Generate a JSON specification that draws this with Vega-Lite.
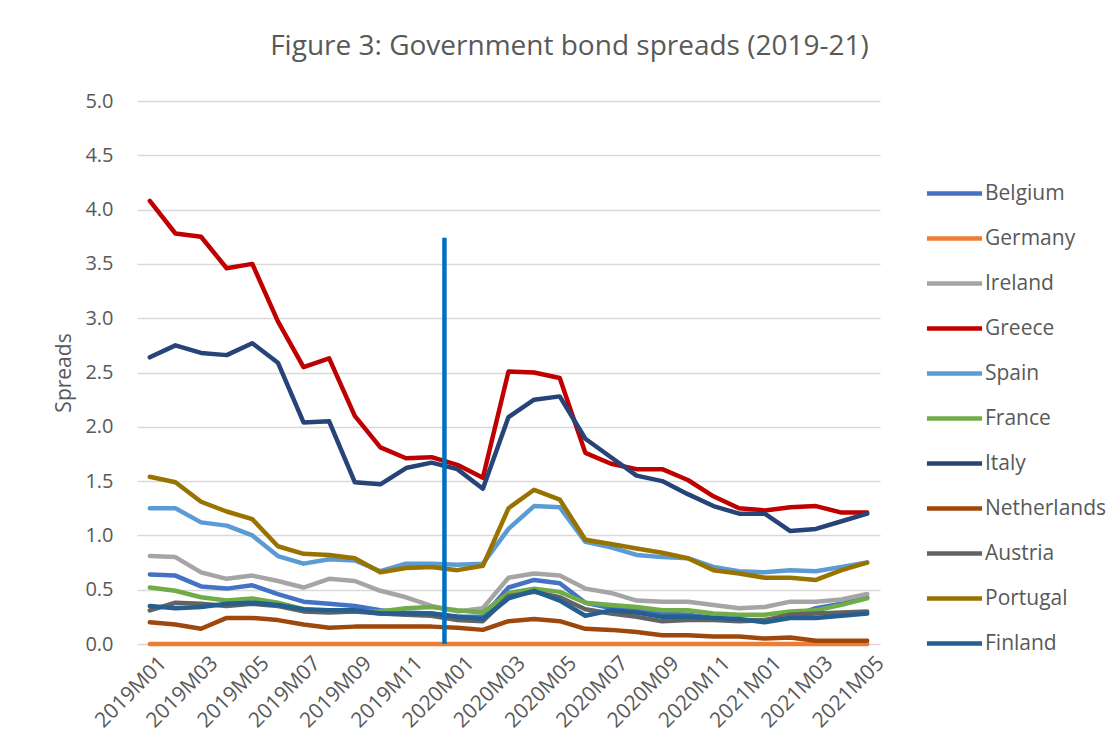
{
  "$schema": "https://vega.github.io/schema/vega-lite/v6.json",
  "autosize": {"type": "none"},
  "width": 743,
  "height": 543,
  "padding": {"left": 137, "top": 101, "right": 240, "bottom": 112},
  "background": "white",
  "title": {
    "text": "Figure 3: Government bond spreads (2019-21)",
    "fontSize": 28,
    "font": "Open Sans",
    "fontWeight": "normal",
    "color": "#595959",
    "anchor": "middle",
    "dx": 61,
    "offset": 30
  },
  "config": {
    "view": {"stroke": null},
    "font": "Open Sans",
    "axis": {"labelColor": "#595959", "titleColor": "#595959", "labelFont": "Open Sans", "titleFont": "Open Sans"},
    "legend": {"labelColor": "#595959", "labelFont": "Open Sans"}
  },
  "layer": [
    {
      "data": {
        "values": [
          {"month":"2019M01","country":"Belgium","spread":0.64},{"month":"2019M02","country":"Belgium","spread":0.63},{"month":"2019M03","country":"Belgium","spread":0.53},{"month":"2019M04","country":"Belgium","spread":0.51},{"month":"2019M05","country":"Belgium","spread":0.54},{"month":"2019M06","country":"Belgium","spread":0.46},{"month":"2019M07","country":"Belgium","spread":0.39},{"month":"2019M08","country":"Belgium","spread":0.37},{"month":"2019M09","country":"Belgium","spread":0.35},{"month":"2019M10","country":"Belgium","spread":0.31},{"month":"2019M11","country":"Belgium","spread":0.29},{"month":"2019M12","country":"Belgium","spread":0.28},{"month":"2020M01","country":"Belgium","spread":0.25},{"month":"2020M02","country":"Belgium","spread":0.25},{"month":"2020M03","country":"Belgium","spread":0.52},{"month":"2020M04","country":"Belgium","spread":0.59},{"month":"2020M05","country":"Belgium","spread":0.56},{"month":"2020M06","country":"Belgium","spread":0.38},{"month":"2020M07","country":"Belgium","spread":0.33},{"month":"2020M08","country":"Belgium","spread":0.31},{"month":"2020M09","country":"Belgium","spread":0.28},{"month":"2020M10","country":"Belgium","spread":0.27},{"month":"2020M11","country":"Belgium","spread":0.24},{"month":"2020M12","country":"Belgium","spread":0.22},{"month":"2021M01","country":"Belgium","spread":0.22},{"month":"2021M02","country":"Belgium","spread":0.25},{"month":"2021M03","country":"Belgium","spread":0.33},{"month":"2021M04","country":"Belgium","spread":0.37},{"month":"2021M05","country":"Belgium","spread":0.43},
          {"month":"2019M01","country":"Germany","spread":0},{"month":"2019M02","country":"Germany","spread":0},{"month":"2019M03","country":"Germany","spread":0},{"month":"2019M04","country":"Germany","spread":0},{"month":"2019M05","country":"Germany","spread":0},{"month":"2019M06","country":"Germany","spread":0},{"month":"2019M07","country":"Germany","spread":0},{"month":"2019M08","country":"Germany","spread":0},{"month":"2019M09","country":"Germany","spread":0},{"month":"2019M10","country":"Germany","spread":0},{"month":"2019M11","country":"Germany","spread":0},{"month":"2019M12","country":"Germany","spread":0},{"month":"2020M01","country":"Germany","spread":0},{"month":"2020M02","country":"Germany","spread":0},{"month":"2020M03","country":"Germany","spread":0},{"month":"2020M04","country":"Germany","spread":0},{"month":"2020M05","country":"Germany","spread":0},{"month":"2020M06","country":"Germany","spread":0},{"month":"2020M07","country":"Germany","spread":0},{"month":"2020M08","country":"Germany","spread":0},{"month":"2020M09","country":"Germany","spread":0},{"month":"2020M10","country":"Germany","spread":0},{"month":"2020M11","country":"Germany","spread":0},{"month":"2020M12","country":"Germany","spread":0},{"month":"2021M01","country":"Germany","spread":0},{"month":"2021M02","country":"Germany","spread":0},{"month":"2021M03","country":"Germany","spread":0},{"month":"2021M04","country":"Germany","spread":0},{"month":"2021M05","country":"Germany","spread":0},
          {"month":"2019M01","country":"Ireland","spread":0.81},{"month":"2019M02","country":"Ireland","spread":0.80},{"month":"2019M03","country":"Ireland","spread":0.66},{"month":"2019M04","country":"Ireland","spread":0.60},{"month":"2019M05","country":"Ireland","spread":0.63},{"month":"2019M06","country":"Ireland","spread":0.58},{"month":"2019M07","country":"Ireland","spread":0.52},{"month":"2019M08","country":"Ireland","spread":0.60},{"month":"2019M09","country":"Ireland","spread":0.58},{"month":"2019M10","country":"Ireland","spread":0.49},{"month":"2019M11","country":"Ireland","spread":0.43},{"month":"2019M12","country":"Ireland","spread":0.35},{"month":"2020M01","country":"Ireland","spread":0.30},{"month":"2020M02","country":"Ireland","spread":0.33},{"month":"2020M03","country":"Ireland","spread":0.61},{"month":"2020M04","country":"Ireland","spread":0.65},{"month":"2020M05","country":"Ireland","spread":0.63},{"month":"2020M06","country":"Ireland","spread":0.51},{"month":"2020M07","country":"Ireland","spread":0.47},{"month":"2020M08","country":"Ireland","spread":0.40},{"month":"2020M09","country":"Ireland","spread":0.39},{"month":"2020M10","country":"Ireland","spread":0.39},{"month":"2020M11","country":"Ireland","spread":0.36},{"month":"2020M12","country":"Ireland","spread":0.33},{"month":"2021M01","country":"Ireland","spread":0.34},{"month":"2021M02","country":"Ireland","spread":0.39},{"month":"2021M03","country":"Ireland","spread":0.39},{"month":"2021M04","country":"Ireland","spread":0.41},{"month":"2021M05","country":"Ireland","spread":0.46},
          {"month":"2019M01","country":"Greece","spread":4.08},{"month":"2019M02","country":"Greece","spread":3.78},{"month":"2019M03","country":"Greece","spread":3.75},{"month":"2019M04","country":"Greece","spread":3.46},{"month":"2019M05","country":"Greece","spread":3.50},{"month":"2019M06","country":"Greece","spread":2.97},{"month":"2019M07","country":"Greece","spread":2.55},{"month":"2019M08","country":"Greece","spread":2.63},{"month":"2019M09","country":"Greece","spread":2.10},{"month":"2019M10","country":"Greece","spread":1.81},{"month":"2019M11","country":"Greece","spread":1.71},{"month":"2019M12","country":"Greece","spread":1.72},{"month":"2020M01","country":"Greece","spread":1.65},{"month":"2020M02","country":"Greece","spread":1.53},{"month":"2020M03","country":"Greece","spread":2.51},{"month":"2020M04","country":"Greece","spread":2.50},{"month":"2020M05","country":"Greece","spread":2.45},{"month":"2020M06","country":"Greece","spread":1.76},{"month":"2020M07","country":"Greece","spread":1.66},{"month":"2020M08","country":"Greece","spread":1.61},{"month":"2020M09","country":"Greece","spread":1.61},{"month":"2020M10","country":"Greece","spread":1.51},{"month":"2020M11","country":"Greece","spread":1.36},{"month":"2020M12","country":"Greece","spread":1.25},{"month":"2021M01","country":"Greece","spread":1.23},{"month":"2021M02","country":"Greece","spread":1.26},{"month":"2021M03","country":"Greece","spread":1.27},{"month":"2021M04","country":"Greece","spread":1.21},{"month":"2021M05","country":"Greece","spread":1.21},
          {"month":"2019M01","country":"Spain","spread":1.25},{"month":"2019M02","country":"Spain","spread":1.25},{"month":"2019M03","country":"Spain","spread":1.12},{"month":"2019M04","country":"Spain","spread":1.09},{"month":"2019M05","country":"Spain","spread":1.00},{"month":"2019M06","country":"Spain","spread":0.81},{"month":"2019M07","country":"Spain","spread":0.74},{"month":"2019M08","country":"Spain","spread":0.78},{"month":"2019M09","country":"Spain","spread":0.77},{"month":"2019M10","country":"Spain","spread":0.67},{"month":"2019M11","country":"Spain","spread":0.74},{"month":"2019M12","country":"Spain","spread":0.74},{"month":"2020M01","country":"Spain","spread":0.73},{"month":"2020M02","country":"Spain","spread":0.74},{"month":"2020M03","country":"Spain","spread":1.06},{"month":"2020M04","country":"Spain","spread":1.27},{"month":"2020M05","country":"Spain","spread":1.26},{"month":"2020M06","country":"Spain","spread":0.94},{"month":"2020M07","country":"Spain","spread":0.89},{"month":"2020M08","country":"Spain","spread":0.82},{"month":"2020M09","country":"Spain","spread":0.80},{"month":"2020M10","country":"Spain","spread":0.79},{"month":"2020M11","country":"Spain","spread":0.71},{"month":"2020M12","country":"Spain","spread":0.67},{"month":"2021M01","country":"Spain","spread":0.66},{"month":"2021M02","country":"Spain","spread":0.68},{"month":"2021M03","country":"Spain","spread":0.67},{"month":"2021M04","country":"Spain","spread":0.71},{"month":"2021M05","country":"Spain","spread":0.75},
          {"month":"2019M01","country":"France","spread":0.52},{"month":"2019M02","country":"France","spread":0.49},{"month":"2019M03","country":"France","spread":0.43},{"month":"2019M04","country":"France","spread":0.40},{"month":"2019M05","country":"France","spread":0.42},{"month":"2019M06","country":"France","spread":0.38},{"month":"2019M07","country":"France","spread":0.32},{"month":"2019M08","country":"France","spread":0.30},{"month":"2019M09","country":"France","spread":0.30},{"month":"2019M10","country":"France","spread":0.30},{"month":"2019M11","country":"France","spread":0.33},{"month":"2019M12","country":"France","spread":0.34},{"month":"2020M01","country":"France","spread":0.31},{"month":"2020M02","country":"France","spread":0.29},{"month":"2020M03","country":"France","spread":0.47},{"month":"2020M04","country":"France","spread":0.51},{"month":"2020M05","country":"France","spread":0.48},{"month":"2020M06","country":"France","spread":0.38},{"month":"2020M07","country":"France","spread":0.36},{"month":"2020M08","country":"France","spread":0.34},{"month":"2020M09","country":"France","spread":0.31},{"month":"2020M10","country":"France","spread":0.31},{"month":"2020M11","country":"France","spread":0.28},{"month":"2020M12","country":"France","spread":0.27},{"month":"2021M01","country":"France","spread":0.27},{"month":"2021M02","country":"France","spread":0.30},{"month":"2021M03","country":"France","spread":0.31},{"month":"2021M04","country":"France","spread":0.36},{"month":"2021M05","country":"France","spread":0.42},
          {"month":"2019M01","country":"Italy","spread":2.64},{"month":"2019M02","country":"Italy","spread":2.75},{"month":"2019M03","country":"Italy","spread":2.68},{"month":"2019M04","country":"Italy","spread":2.66},{"month":"2019M05","country":"Italy","spread":2.77},{"month":"2019M06","country":"Italy","spread":2.59},{"month":"2019M07","country":"Italy","spread":2.04},{"month":"2019M08","country":"Italy","spread":2.05},{"month":"2019M09","country":"Italy","spread":1.49},{"month":"2019M10","country":"Italy","spread":1.47},{"month":"2019M11","country":"Italy","spread":1.62},{"month":"2019M12","country":"Italy","spread":1.67},{"month":"2020M01","country":"Italy","spread":1.61},{"month":"2020M02","country":"Italy","spread":1.43},{"month":"2020M03","country":"Italy","spread":2.09},{"month":"2020M04","country":"Italy","spread":2.25},{"month":"2020M05","country":"Italy","spread":2.28},{"month":"2020M06","country":"Italy","spread":1.89},{"month":"2020M07","country":"Italy","spread":1.72},{"month":"2020M08","country":"Italy","spread":1.55},{"month":"2020M09","country":"Italy","spread":1.50},{"month":"2020M10","country":"Italy","spread":1.38},{"month":"2020M11","country":"Italy","spread":1.27},{"month":"2020M12","country":"Italy","spread":1.20},{"month":"2021M01","country":"Italy","spread":1.20},{"month":"2021M02","country":"Italy","spread":1.04},{"month":"2021M03","country":"Italy","spread":1.06},{"month":"2021M04","country":"Italy","spread":1.13},{"month":"2021M05","country":"Italy","spread":1.20},
          {"month":"2019M01","country":"Netherlands","spread":0.20},{"month":"2019M02","country":"Netherlands","spread":0.18},{"month":"2019M03","country":"Netherlands","spread":0.14},{"month":"2019M04","country":"Netherlands","spread":0.24},{"month":"2019M05","country":"Netherlands","spread":0.24},{"month":"2019M06","country":"Netherlands","spread":0.22},{"month":"2019M07","country":"Netherlands","spread":0.18},{"month":"2019M08","country":"Netherlands","spread":0.15},{"month":"2019M09","country":"Netherlands","spread":0.16},{"month":"2019M10","country":"Netherlands","spread":0.16},{"month":"2019M11","country":"Netherlands","spread":0.16},{"month":"2019M12","country":"Netherlands","spread":0.16},{"month":"2020M01","country":"Netherlands","spread":0.15},{"month":"2020M02","country":"Netherlands","spread":0.13},{"month":"2020M03","country":"Netherlands","spread":0.21},{"month":"2020M04","country":"Netherlands","spread":0.23},{"month":"2020M05","country":"Netherlands","spread":0.21},{"month":"2020M06","country":"Netherlands","spread":0.14},{"month":"2020M07","country":"Netherlands","spread":0.13},{"month":"2020M08","country":"Netherlands","spread":0.11},{"month":"2020M09","country":"Netherlands","spread":0.08},{"month":"2020M10","country":"Netherlands","spread":0.08},{"month":"2020M11","country":"Netherlands","spread":0.07},{"month":"2020M12","country":"Netherlands","spread":0.07},{"month":"2021M01","country":"Netherlands","spread":0.05},{"month":"2021M02","country":"Netherlands","spread":0.06},{"month":"2021M03","country":"Netherlands","spread":0.03},{"month":"2021M04","country":"Netherlands","spread":0.03},{"month":"2021M05","country":"Netherlands","spread":0.03},
          {"month":"2019M01","country":"Austria","spread":0.31},{"month":"2019M02","country":"Austria","spread":0.38},{"month":"2019M03","country":"Austria","spread":0.37},{"month":"2019M04","country":"Austria","spread":0.35},{"month":"2019M05","country":"Austria","spread":0.37},{"month":"2019M06","country":"Austria","spread":0.35},{"month":"2019M07","country":"Austria","spread":0.30},{"month":"2019M08","country":"Austria","spread":0.29},{"month":"2019M09","country":"Austria","spread":0.30},{"month":"2019M10","country":"Austria","spread":0.28},{"month":"2019M11","country":"Austria","spread":0.27},{"month":"2019M12","country":"Austria","spread":0.26},{"month":"2020M01","country":"Austria","spread":0.22},{"month":"2020M02","country":"Austria","spread":0.21},{"month":"2020M03","country":"Austria","spread":0.44},{"month":"2020M04","country":"Austria","spread":0.48},{"month":"2020M05","country":"Austria","spread":0.43},{"month":"2020M06","country":"Austria","spread":0.32},{"month":"2020M07","country":"Austria","spread":0.28},{"month":"2020M08","country":"Austria","spread":0.25},{"month":"2020M09","country":"Austria","spread":0.21},{"month":"2020M10","country":"Austria","spread":0.22},{"month":"2020M11","country":"Austria","spread":0.22},{"month":"2020M12","country":"Austria","spread":0.21},{"month":"2021M01","country":"Austria","spread":0.22},{"month":"2021M02","country":"Austria","spread":0.27},{"month":"2021M03","country":"Austria","spread":0.28},{"month":"2021M04","country":"Austria","spread":0.29},{"month":"2021M05","country":"Austria","spread":0.30},
          {"month":"2019M01","country":"Portugal","spread":1.54},{"month":"2019M02","country":"Portugal","spread":1.49},{"month":"2019M03","country":"Portugal","spread":1.31},{"month":"2019M04","country":"Portugal","spread":1.22},{"month":"2019M05","country":"Portugal","spread":1.15},{"month":"2019M06","country":"Portugal","spread":0.90},{"month":"2019M07","country":"Portugal","spread":0.83},{"month":"2019M08","country":"Portugal","spread":0.82},{"month":"2019M09","country":"Portugal","spread":0.79},{"month":"2019M10","country":"Portugal","spread":0.66},{"month":"2019M11","country":"Portugal","spread":0.70},{"month":"2019M12","country":"Portugal","spread":0.71},{"month":"2020M01","country":"Portugal","spread":0.68},{"month":"2020M02","country":"Portugal","spread":0.72},{"month":"2020M03","country":"Portugal","spread":1.25},{"month":"2020M04","country":"Portugal","spread":1.42},{"month":"2020M05","country":"Portugal","spread":1.33},{"month":"2020M06","country":"Portugal","spread":0.96},{"month":"2020M07","country":"Portugal","spread":0.92},{"month":"2020M08","country":"Portugal","spread":0.88},{"month":"2020M09","country":"Portugal","spread":0.84},{"month":"2020M10","country":"Portugal","spread":0.79},{"month":"2020M11","country":"Portugal","spread":0.68},{"month":"2020M12","country":"Portugal","spread":0.65},{"month":"2021M01","country":"Portugal","spread":0.61},{"month":"2021M02","country":"Portugal","spread":0.61},{"month":"2021M03","country":"Portugal","spread":0.59},{"month":"2021M04","country":"Portugal","spread":0.68},{"month":"2021M05","country":"Portugal","spread":0.75},
          {"month":"2019M01","country":"Finland","spread":0.35},{"month":"2019M02","country":"Finland","spread":0.33},{"month":"2019M03","country":"Finland","spread":0.34},{"month":"2019M04","country":"Finland","spread":0.37},{"month":"2019M05","country":"Finland","spread":0.38},{"month":"2019M06","country":"Finland","spread":0.36},{"month":"2019M07","country":"Finland","spread":0.32},{"month":"2019M08","country":"Finland","spread":0.31},{"month":"2019M09","country":"Finland","spread":0.31},{"month":"2019M10","country":"Finland","spread":0.28},{"month":"2019M11","country":"Finland","spread":0.28},{"month":"2019M12","country":"Finland","spread":0.28},{"month":"2020M01","country":"Finland","spread":0.25},{"month":"2020M02","country":"Finland","spread":0.23},{"month":"2020M03","country":"Finland","spread":0.42},{"month":"2020M04","country":"Finland","spread":0.49},{"month":"2020M05","country":"Finland","spread":0.40},{"month":"2020M06","country":"Finland","spread":0.26},{"month":"2020M07","country":"Finland","spread":0.31},{"month":"2020M08","country":"Finland","spread":0.29},{"month":"2020M09","country":"Finland","spread":0.25},{"month":"2020M10","country":"Finland","spread":0.25},{"month":"2020M11","country":"Finland","spread":0.24},{"month":"2020M12","country":"Finland","spread":0.23},{"month":"2021M01","country":"Finland","spread":0.20},{"month":"2021M02","country":"Finland","spread":0.24},{"month":"2021M03","country":"Finland","spread":0.24},{"month":"2021M04","country":"Finland","spread":0.26},{"month":"2021M05","country":"Finland","spread":0.28}
        ]
      },
      "mark": {"type": "line", "strokeWidth": 4.5, "strokeJoin": "round", "strokeCap": "round"},
      "encoding": {
        "x": {
          "field": "month",
          "type": "ordinal",
          "scale": {"type": "band", "paddingInner": 0, "paddingOuter": 0},
          "axis": {
            "title": null,
            "values": ["2019M01","2019M03","2019M05","2019M07","2019M09","2019M11","2020M01","2020M03","2020M05","2020M07","2020M09","2020M11","2021M01","2021M03","2021M05"],
            "labelAngle": -45,
            "labelFontSize": 21,
            "labelPadding": 8,
            "labelOffset": 6,
            "domain": false,
            "ticks": false,
            "grid": false
          }
        },
        "y": {
          "field": "spread",
          "type": "quantitative",
          "scale": {"domain": [0, 5], "nice": false},
          "axis": {
            "title": "Spreads",
            "titleFontSize": 21,
            "titleFontWeight": "normal",
            "titlePadding": 10,
            "values": [0, 0.5, 1, 1.5, 2, 2.5, 3, 3.5, 4, 4.5, 5],
            "format": ".1f",
            "labelFontSize": 20,
            "labelPadding": 24,
            "domain": false,
            "ticks": false,
            "grid": true,
            "gridColor": "#D9D9D9",
            "gridWidth": 1.5
          }
        },
        "color": {
          "field": "country",
          "type": "nominal",
          "scale": {
            "domain": ["Belgium","Germany","Ireland","Greece","Spain","France","Italy","Netherlands","Austria","Portugal","Finland"],
            "range": ["#4472C4","#ED7D31","#A5A5A5","#C00000","#5B9BD5","#70AD47","#264478","#9E480E","#636363","#997300","#255E91"]
          },
          "legend": {
            "title": null,
            "orient": "none",
            "legendX": 801,
            "legendY": 76,
            "symbolType": "M-2,0L2,0",
            "symbolSize": 760,
            "symbolStrokeWidth": 4.5,
            "labelFontSize": 21,
            "rowPadding": 18,
            "labelOffset": 14
          }
        }
      }
    },
    {
      "data": {"values": [{"month": "2020M01", "low": 0, "high": 3.74}]},
      "mark": {"type": "rule", "color": "#0070C0", "strokeWidth": 4.5},
      "encoding": {
        "x": {"field": "month", "type": "ordinal", "bandPosition": 0},
        "y": {"field": "low", "type": "quantitative"},
        "y2": {"field": "high"}
      }
    }
  ]
}
